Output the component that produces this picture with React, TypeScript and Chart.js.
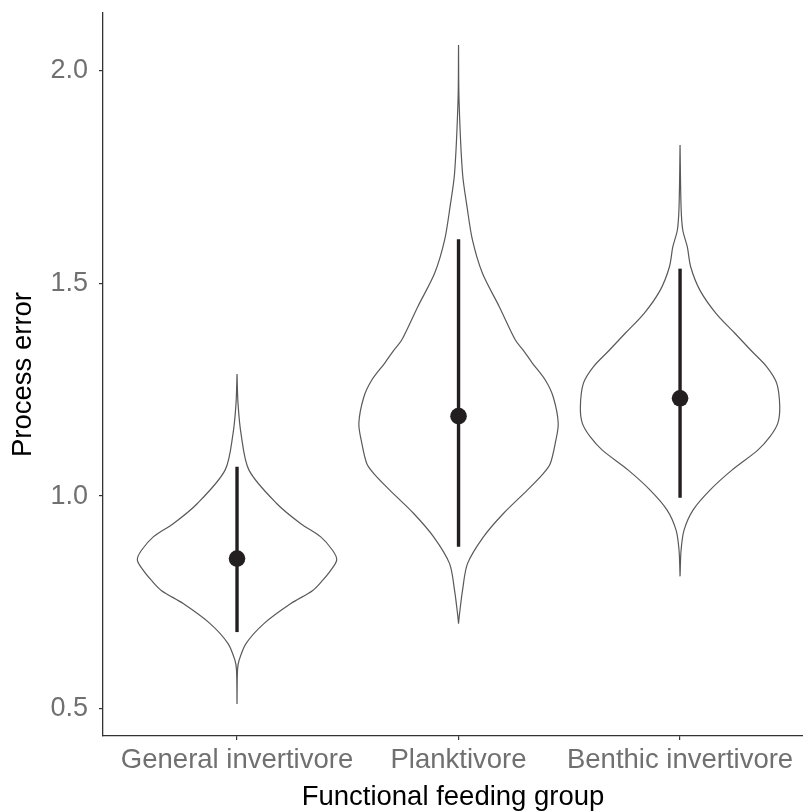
import React, { useEffect, useRef } from "react";
import Chart from "chart.js/auto";

// ---- data ----
const categories = ["General invertivore", "Planktivore", "Benthic invertivore"];
const yTickValues = [0.5, 1.0, 1.5, 2.0];

// violin outlines: y values (ascending) and relative half-width (1 = widest)
const generalY = [0.511, 0.59, 0.613, 0.653, 0.7, 0.747, 0.778, 0.802, 0.825, 0.85, 0.872, 0.904, 0.935, 0.982, 1.061, 1.147, 1.218, 1.287];
const generalW = [0, 0.005, 0.02, 0.09, 0.27, 0.54, 0.76, 0.86, 0.94, 1.0, 0.96, 0.84, 0.64, 0.4, 0.12, 0.04, 0.01, 0];

const planktY = [0.7, 0.723, 0.778, 0.841, 0.904, 0.959, 1.014, 1.053, 1.076, 1.124, 1.171, 1.233, 1.273, 1.313, 1.343, 1.367, 1.445, 1.524, 1.602, 1.681, 1.759, 1.932, 2.061];
const planktW = [0, 0.01, 0.04, 0.09, 0.25, 0.45, 0.69, 0.85, 0.92, 0.97, 1.0, 0.95, 0.87, 0.74, 0.65, 0.57, 0.41, 0.24, 0.14, 0.085, 0.04, 0.005, 0];

const benthicY = [0.811, 0.872, 0.92, 0.967, 1.014, 1.061, 1.108, 1.139, 1.171, 1.21, 1.265, 1.304, 1.343, 1.383, 1.43, 1.484, 1.539, 1.586, 1.626, 1.681, 1.826];
const benthicW = [0, 0.01, 0.04, 0.13, 0.3, 0.52, 0.78, 0.9, 0.98, 1.0, 0.97, 0.87, 0.71, 0.55, 0.36, 0.2, 0.107, 0.073, 0.027, 0.01, 0];

// point estimates and intervals
const medians = [0.853, 1.188, 1.23];
const lowers = [0.68, 0.881, 0.996];
const uppers = [1.069, 1.604, 1.535];

const violinYs = [generalY, planktY, benthicY];
const violinWs = [generalW, planktW, benthicW];

const HALF_WIDTH = 0.45;
const OUTLINE = "#595959";
const DARK = "#231f20";
const AXIS = "#333333";
const TICK_TEXT = "#707070";
const FONT = "'Liberation Sans', Arial, sans-serif";

function violinPoints(center: number, ys: number[], ws: number[]) {
  const pts: { x: number; y: number }[] = [];
  for (let i = 0; i < ys.length; i++) pts.push({ x: center + ws[i] * HALF_WIDTH, y: ys[i] });
  for (let i = ys.length - 1; i >= 0; i--) pts.push({ x: center - ws[i] * HALF_WIDTH, y: ys[i] });
  return pts;
}

export default function App() {
  const ref = useRef<HTMLCanvasElement | null>(null);

  useEffect(() => {
    if (!ref.current) return;
    const datasets: any[] = [];
    categories.forEach((_, i) => {
      datasets.push({
        type: "scatter",
        data: violinPoints(i + 1, violinYs[i], violinWs[i]),
        showLine: true,
        borderColor: OUTLINE,
        borderWidth: 1.2,
        pointRadius: 0,
        tension: 0.3,
        fill: false,
      });
    });
    categories.forEach((_, i) => {
      datasets.push({
        type: "scatter",
        data: [
          { x: i + 1, y: lowers[i] },
          { x: i + 1, y: uppers[i] },
        ],
        showLine: true,
        borderColor: DARK,
        borderWidth: 3.4,
        borderCapStyle: "butt",
        pointRadius: 0,
      });
    });
    datasets.push({
      type: "scatter",
      data: medians.map((m, i) => ({ x: i + 1, y: m })),
      showLine: false,
      pointRadius: 8.3,
      pointBackgroundColor: DARK,
      pointBorderColor: DARK,
      pointBorderWidth: 0,
    });

    const chart = new Chart(ref.current, {
      type: "scatter",
      data: { datasets },
      options: {
        animation: false,
        responsive: false,
        maintainAspectRatio: false,
        layout: { autoPadding: false, padding: { top: 13, left: 0, right: 0, bottom: 0 } },
        plugins: { legend: { display: false }, tooltip: { enabled: false } },
        scales: {
          x: {
            type: "linear",
            min: 0.395,
            max: 3.555,
            afterFit: (s: any) => {
              s.height = 75;
              s.paddingLeft = 0;
              s.paddingRight = 0;
            },
            afterBuildTicks: (s: any) => {
              s.ticks = categories.map((_, i) => ({ value: i + 1 }));
            },
            grid: {
              display: true,
              drawOnChartArea: false,
              drawTicks: true,
              tickLength: 4,
              color: AXIS,
              lineWidth: 1.2,
            },
            border: { display: true, color: AXIS, width: 1.3 },
            ticks: {
              autoSkip: false,
              maxRotation: 0,
              minRotation: 0,
              padding: 4,
              color: TICK_TEXT,
              font: { family: FONT, size: 27.5 },
              callback: (v: any) => categories[Math.round(Number(v)) - 1] ?? "",
            },
            title: {
              display: true,
              text: "Functional feeding group",
              color: "#000000",
              font: { family: FONT, size: 27.5, lineHeight: 1 },
              padding: { top: 0, bottom: 0 },
            },
          },
          y: {
            type: "linear",
            min: 0.4355,
            max: 2.1365,
            afterFit: (s: any) => {
              s.width = 103;
              s.paddingTop = 0;
              s.paddingBottom = 0;
            },
            afterBuildTicks: (s: any) => {
              s.ticks = yTickValues.map((v) => ({ value: v }));
            },
            grid: {
              display: true,
              drawOnChartArea: false,
              drawTicks: true,
              tickLength: 4,
              color: AXIS,
              lineWidth: 1.2,
            },
            border: { display: true, color: AXIS, width: 1.3 },
            ticks: {
              padding: 11,
              color: TICK_TEXT,
              font: { family: FONT, size: 27 },
              callback: (v: any) => Number(v).toFixed(1),
            },
            title: {
              display: true,
              text: "Process error",
              color: "#000000",
              font: { family: FONT, size: 27.5, lineHeight: 1 },
              padding: { top: 10, bottom: 0 },
            },
          },
        },
      },
    });
    return () => chart.destroy();
  }, []);

  return (
    <div style={{ position: "fixed", left: 0, top: 0, width: 803, height: 811, background: "#ffffff" }}>
      <canvas ref={ref} width={803} height={811} style={{ display: "block", width: 803, height: 811 }} />
    </div>
  );
}
